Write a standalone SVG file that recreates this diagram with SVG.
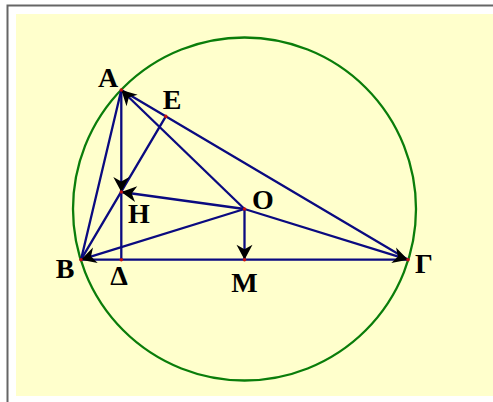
<svg xmlns="http://www.w3.org/2000/svg" width="493" height="402" viewBox="0 0 493 402">
  <defs>
    <style>
      .seg { stroke: #0a0a80; stroke-width: 2.3; fill: none; stroke-linecap: round; }
      .vec { stroke: #0a0a80; stroke-width: 2.3; fill: none; marker-end: url(#arr); }
      .pt { fill: #c01010; }
      .lbl { font-family: "Liberation Serif", "Times New Roman", serif; font-weight: bold; font-size: 28px; fill: #000; text-anchor: middle; }
    </style>
    <marker id="arr" markerUnits="userSpaceOnUse" markerWidth="20" markerHeight="20" refX="16" refY="8" orient="auto" overflow="visible">
      <path d="M16,8 L1,0 L5.5,8 L1,16 Z" fill="#000"/>
    </marker>
  </defs>
  <rect x="0" y="0" width="493" height="402" fill="#ffffff"/>
  <rect x="16" y="14" width="477" height="382" fill="#ffffcc"/>
  <path d="M7.5,402 V5.5 H493" stroke="#666" stroke-width="2" fill="none"/>
  <circle id="circle" cx="244.5" cy="209" r="171.5" fill="none" stroke="#0a7d0a" stroke-width="2.3"/>
  <g id="connectors">
    <line class="seg" x1="121.3" y1="90" x2="81" y2="259.7"/>
    <line class="seg" x1="81" y1="259.7" x2="408" y2="259.7"/>
    <line class="seg" x1="121.3" y1="90" x2="408" y2="259.7"/>
    <line class="seg" x1="121.3" y1="192" x2="121.3" y2="259.7"/>
    <line class="seg" x1="81" y1="259.7" x2="165.8" y2="116.4"/>
    <line class="vec" x1="121.3" y1="90" x2="121.3" y2="192"/>
    <line class="vec" x1="244.5" y1="209" x2="121.3" y2="90"/>
    <line class="vec" x1="244.5" y1="209" x2="81" y2="259.7"/>
    <line class="vec" x1="244.5" y1="209" x2="408" y2="259.7"/>
    <line class="vec" x1="244.5" y1="209" x2="121.3" y2="192"/>
    <line class="vec" x1="244.5" y1="209" x2="244.5" y2="259.7"/>
  </g>
  <g id="A"><circle class="pt" cx="121.3" cy="90" r="1.8"/><text class="lbl" x="108" y="87">A</text></g>
  <g id="E"><circle class="pt" cx="165.8" cy="116.4" r="1.8"/><text class="lbl" x="172" y="109">E</text></g>
  <g id="H"><circle class="pt" cx="121.3" cy="192" r="1.8"/><text class="lbl" x="139" y="223">H</text></g>
  <g id="O"><circle class="pt" cx="244.5" cy="209" r="1.8"/><text class="lbl" x="263" y="209">O</text></g>
  <g id="B"><circle class="pt" cx="81" cy="259.7" r="1.8"/><text class="lbl" x="65" y="278">B</text></g>
  <g id="Delta"><circle class="pt" cx="121.3" cy="259.7" r="1.8"/><text class="lbl" x="119" y="285">Δ</text></g>
  <g id="M"><circle class="pt" cx="244.5" cy="259.7" r="1.8"/><text class="lbl" x="244.5" y="292">M</text></g>
  <g id="Gamma"><circle class="pt" cx="408" cy="259.7" r="1.8"/><text class="lbl" x="424" y="273">Γ</text></g>
</svg>
